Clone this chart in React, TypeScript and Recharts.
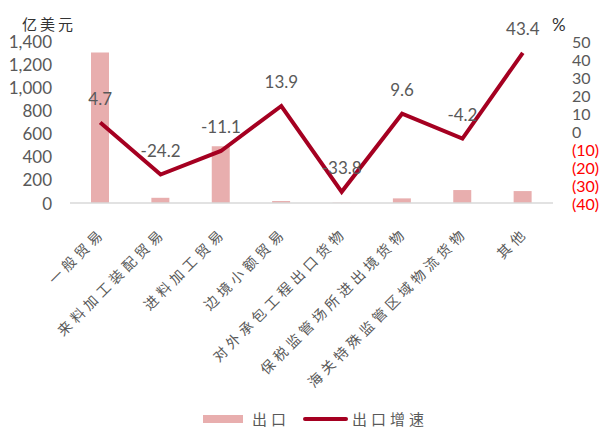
import React from 'react';
import { ComposedChart, Bar, Line, XAxis, YAxis, Legend, LabelList } from 'recharts';

const categories = ['一般贸易', '来料加工装配贸易', '进料加工贸易', '边境小额贸易', '对外承包工程出口货物', '保税监管场所进出境货物', '海关特殊监管区域物流货物', '其他'];
const exportValues = [1300, 45, 490, 17, 3, 40, 112, 103];
const growthValues = [4.7, -24.2, -11.1, 13.9, -33.8, 9.6, -4.2, 43.4];
const leftTicks = [0, 200, 400, 600, 800, 1000, 1200, 1400];
const rightTicks = [-40, -30, -20, -10, 0, 10, 20, 30, 40, 50];

const data = categories.map((name, i) => ({ name, exp: exportValues[i], growth: growthValues[i] }));

const NUM_FONT = 'Lato, "Open Sans", sans-serif';
const CJK_FONT = '"Noto Sans CJK SC", sans-serif';
const BAR_COLOR = '#E8AEAE';
const LINE_COLOR = '#A50021';

const XTick = (props: any) => {
  const { x, y, payload } = props;
  const ax = x + 6;
  const ay = y + 23;
  return (
    <text x={ax} y={ay} transform={`rotate(-45 ${ax} ${ay})`} textAnchor="end" fontFamily={CJK_FONT} fontSize={14} letterSpacing={4.2} fill="#595959">
      {payload.value}
    </text>
  );
};

const LeftTick = (props: any) => {
  const { x, y, payload } = props;
  return (
    <text x={x} y={y} textAnchor="end" dominantBaseline="central" fontFamily={NUM_FONT} fontSize={17} fill="#595959">
      {Number(payload.value).toLocaleString('en-US')}
    </text>
  );
};

const RightTick = (props: any) => {
  const { x, y, payload } = props;
  const v = payload.value;
  return (
    <text x={x} y={y} textAnchor="start" dominantBaseline="central" fontFamily={NUM_FONT} fontSize={16} fill={v < 0 ? '#FF0000' : '#595959'}>
      {v < 0 ? `(${-v})` : `${v}`}
    </text>
  );
};

const GrowthLabel = (props: any) => {
  const { x, y, value } = props;
  return (
    <text x={x} y={y - 24} textAnchor="middle" dominantBaseline="central" fontFamily={NUM_FONT} fontSize={17} fill="#595959">
      {value}
    </text>
  );
};

const LegendContent = () => (
  <div style={{ position: 'relative', width: 603, height: 22 }}>
    <div style={{ position: 'absolute', left: 193, top: 7, width: 40, height: 8, background: BAR_COLOR }} />
    <span style={{ position: 'absolute', left: 242, top: 0, fontFamily: CJK_FONT, fontSize: 15, letterSpacing: 4, color: '#595959', lineHeight: '22px' }}>出口</span>
    <div style={{ position: 'absolute', left: 293, top: 9, width: 45, height: 4, borderRadius: 2, background: LINE_COLOR }} />
    <span style={{ position: 'absolute', left: 342, top: 0, fontFamily: CJK_FONT, fontSize: 15, letterSpacing: 4, color: '#595959', lineHeight: '22px' }}>出口增速</span>
  </div>
);

export default function App() {
  return (
    <div style={{ position: 'absolute', left: 0, top: 0, width: 603, height: 433, background: '#fff' }}>
      <ComposedChart width={603} height={433} data={data} margin={{ top: 41, right: 5, bottom: 3, left: 10 }}>
        <XAxis dataKey="name" interval={0} height={205} tick={<XTick />} tickLine={false} axisLine={{ stroke: '#D9D9D9', strokeWidth: 1.5 }} />
        <YAxis yAxisId="left" orientation="left" width={60} domain={[0, 1400]} ticks={leftTicks} interval={0} tick={<LeftTick />} tickSize={0} tickMargin={18} axisLine={false} tickLine={false} />
        <YAxis yAxisId="right" orientation="right" width={45} domain={[-40, 50]} ticks={rightTicks} interval={0} tick={<RightTick />} tickSize={0} tickMargin={19} axisLine={false} tickLine={false} />
        <Bar yAxisId="left" dataKey="exp" name="出口" fill={BAR_COLOR} barSize={18} isAnimationActive={false} />
        <Line yAxisId="right" dataKey="growth" name="出口增速" stroke={LINE_COLOR} strokeWidth={4} dot={false} activeDot={false} isAnimationActive={false}>
          <LabelList dataKey="growth" content={<GrowthLabel />} />
        </Line>
        <Legend verticalAlign="bottom" height={22} content={<LegendContent />} />
        <text x={22} y={23} dominantBaseline="central" fontFamily={CJK_FONT} fontSize={15} letterSpacing={3} fill="#333">亿美元</text>
        <text x={552} y={24} dominantBaseline="central" fontFamily={NUM_FONT} fontSize={17} fill="#333">%</text>
      </ComposedChart>
    </div>
  );
}
